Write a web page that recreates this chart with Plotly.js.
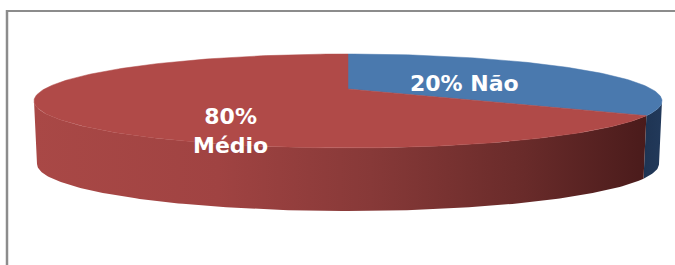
<!DOCTYPE html>
<html><head><meta charset="utf-8">
<script src="https://cdn.plot.ly/plotly-3.0.1.min.js"></script>
<style>html,body{margin:0;padding:0;background:#fff;overflow:hidden;} #chart{width:675px;height:265px;}</style>
</head><body><div id="chart"></div>
<script>
// ---- data ----
const categories = ['Não', 'Médio'];
const values = [20, 80];
// label layout per category: single line or two lines
const labelBreak = [false, true];

// ---- style ----
const topColors = ['#4A79AE', '#B04A48'];
const sideScales = [
  [[0, '#1E3453'], [1, '#22395A']],
  [[0, '#A94846'], [0.3, '#A04342'], [0.55, '#873938'], [0.8, '#692B2A'], [1, '#4A1B1B']]
];
const labelPos = [[464, 83], [230, 131]];

// ---- 3D pie view geometry (rendering only) ----
const W = 675, H = 265;
const CX = 348, CY = 101, A = 314, B = 47, DEPTH = 63, APEX_DY = -12, K = 38, SHRINK = 3;
const rad = d => d * Math.PI / 180;
// perspective-like angle distortion of the tilted view
function g(theta) { return theta + K * Math.sin(rad(theta)); }
function rim(tDeg, dy, shrink) {
  const t = rad(tDeg);
  return [CX + (A - shrink) * Math.cos(t), CY - B * Math.sin(t) + dy];
}

const total = values.reduce((s, v) => s + v, 0);
const sideTraces = [], topTraces = [], annotations = [];
let cum = 0;
values.forEach((v, i) => {
  const th0 = cum / total * 360, th1 = (cum + v) / total * 360;
  cum += v;
  const t0 = 90 - g(th0), t1 = 90 - g(th1);
  // top face
  const xs = [CX], ys = [CY + APEX_DY];
  const n = Math.max(2, Math.ceil(t0 - t1));
  for (let k = 0; k <= n; k++) {
    const p = rim(t0 - (t0 - t1) * k / n, 0, 0);
    xs.push(p[0]); ys.push(p[1]);
  }
  xs.push(CX); ys.push(CY + APEX_DY);
  topTraces.push({
    type: 'scatter', mode: 'lines', x: xs, y: ys, fill: 'toself',
    fillcolor: topColors[i], line: {width: 0.5, color: topColors[i]},
    hoverinfo: 'skip', showlegend: false, name: categories[i]
  });
  // visible side (front half: t in [-180, 0])
  [0, 360, -360].forEach(shift => {
    const hi = Math.min(t0 + shift, 0), lo = Math.max(t1 + shift, -180);
    if (hi - lo <= 0.01) return;
    const sx = [], sy = [];
    const m = Math.max(2, Math.ceil(hi - lo));
    for (let k = 0; k <= m; k++) {
      const p = rim(hi - (hi - lo) * k / m, 0, 0);
      sx.push(p[0]); sy.push(p[1]);
    }
    for (let k = m; k >= 0; k--) {
      const p = rim(hi - (hi - lo) * k / m, DEPTH, SHRINK);
      sx.push(p[0]); sy.push(p[1]);
    }
    sx.push(sx[0]); sy.push(sy[0]);
    sideTraces.push({
      type: 'scatter', mode: 'lines', x: sx, y: sy, fill: 'toself',
      fillgradient: {type: 'horizontal', colorscale: sideScales[i]},
      line: {width: 0}, hoverinfo: 'skip', showlegend: false
    });
  });
  const pct = Math.round(v / total * 100);
  annotations.push({
    x: labelPos[i][0], y: labelPos[i][1], xref: 'x', yref: 'y', showarrow: false,
    text: pct + '%' + (labelBreak[i] ? '<br>' : ' ') + categories[i],
    font: {family: 'DejaVu Sans', size: 22, color: '#FFFFFF', weight: 'bold'},
    align: 'center'
  });
});

const layout = {
  width: W, height: H, margin: {l: 0, r: 0, t: 0, b: 0},
  paper_bgcolor: '#FFFFFF', plot_bgcolor: '#FFFFFF',
  xaxis: {range: [0, W], visible: false, fixedrange: true},
  yaxis: {range: [H, 0], visible: false, fixedrange: true},
  showlegend: false,
  annotations: annotations,
  shapes: [
    {type: 'line', xref: 'x', yref: 'y', x0: 6, x1: 675, y0: 11, y1: 11, line: {color: '#8C8C8C', width: 2}},
    {type: 'line', xref: 'x', yref: 'y', x0: 7, x1: 7, y0: 10, y1: 265, line: {color: '#8C8C8C', width: 2.5}}
  ]
};
Plotly.newPlot('chart', sideTraces.concat(topTraces), layout, {staticPlot: true, displayModeBar: false});
</script></body></html>
